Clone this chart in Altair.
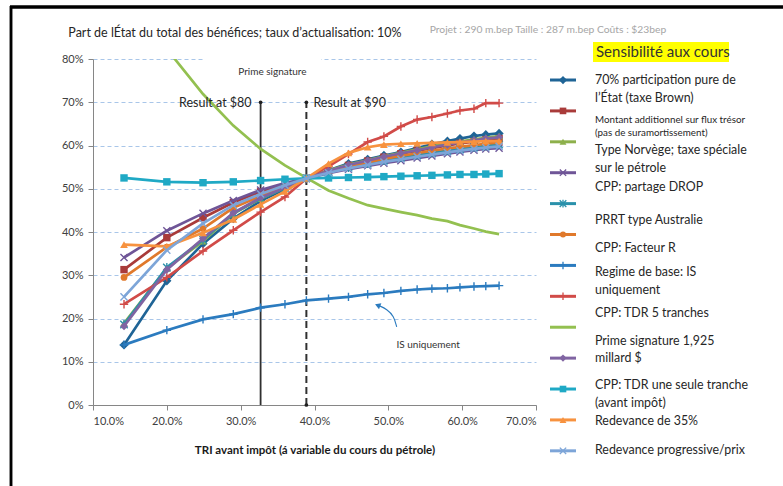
import altair as alt
import pandas as pd

FONT = "Lato"

# TRI avant impôt at each oil-price step ($60 -> $150, by $5)
tri = [0.142, 0.200, 0.249, 0.290, 0.327, 0.360, 0.389, 0.419, 0.446, 0.472,
       0.494, 0.517, 0.539, 0.559, 0.580, 0.597, 0.616, 0.632, 0.650]

# Part de l'État (%) for each fiscal regime
brown = [13.9, 28.7, 37.3, 43.1, 47.2, 49.9, 52.4, 54.3, 55.8, 56.8, 57.7, 58.5, 59.4, 60.3, 61.0, 61.6, 62.2, 62.5, 62.8]
flux_tresor = [31.3, 38.7, 43.3, 46.8, 49.3, 51.0, 52.4, 54.1, 55.4, 56.4, 57.3, 58.1, 58.8, 59.4, 60.0, 60.5, 60.9, 61.3, 61.6]
norvege = [18.9, 31.6, 37.9, 44.2, 47.7, 50.2, 52.4, 54.2, 55.6, 56.6, 57.5, 58.3, 59.1, 59.8, 60.4, 60.9, 61.4, 61.8, 62.2]
partage_drop = [34.1, 40.3, 44.3, 47.3, 49.7, 51.3, 52.4, 53.6, 54.5, 55.3, 55.9, 56.5, 57.1, 57.6, 58.1, 58.5, 58.9, 59.2, 59.4]
prrt = [18.6, 31.8, 38.2, 44.3, 47.8, 50.2, 52.4, 53.8, 54.9, 55.8, 56.5, 57.2, 57.8, 58.3, 58.8, 59.2, 59.6, 59.9, 60.2]
facteur_r = [29.5, 36.5, 40.8, 45.6, 48.3, 50.4, 52.4, 54.0, 55.2, 56.1, 56.9, 57.6, 58.2, 58.8, 59.3, 59.7, 60.1, 60.4, 60.7]
is_seul = [13.9, 17.3, 19.8, 21.0, 22.5, 23.3, 24.2, 24.6, 25.0, 25.6, 25.9, 26.4, 26.7, 26.9, 27.0, 27.2, 27.4, 27.5, 27.6]
tdr_5 = [23.3, 29.5, 35.6, 40.4, 44.6, 48.1, 52.4, 55.2, 58.0, 60.8, 62.1, 64.4, 66.0, 66.6, 67.4, 68.1, 68.5, 69.8, 69.8]
prime_sig = [None, 82.3, 71.9, 64.6, 59.2, 55.4, 52.5, 49.6, 47.8, 46.2, 45.4, 44.6, 43.9, 43.1, 42.5, 41.6, 40.8, 40.1, 39.5]
tdr_1_diamant = [18.2, 31.3, 38.5, 44.4, 47.9, 50.3, 52.4, 54.1, 55.5, 56.5, 57.4, 58.2, 58.9, 59.6, 60.2, 60.7, 61.2, 61.6, 61.9]
tdr_1_carre = [52.5, 51.6, 51.4, 51.6, 51.9, 52.2, 52.4, 52.5, 52.6, 52.7, 52.8, 52.9, 53.0, 53.1, 53.2, 53.3, 53.3, 53.4, 53.5]
redevance_35 = [37.1, 36.7, 39.8, 42.9, 46.4, 49.4, 52.4, 55.8, 58.3, 59.6, 60.2, 60.4, 60.5, 60.6, 60.7, 60.8, 60.9, 61.0, 61.0]
redevance_prog = [25.0, 35.8, 42.0, 46.2, 48.8, 50.8, 52.4, 53.7, 54.7, 55.5, 56.2, 56.8, 57.4, 57.9, 58.4, 58.8, 59.2, 59.5, 59.8]

series = [brown, flux_tresor, norvege, partage_drop, prrt, facteur_r, is_seul,
          tdr_5, prime_sig, tdr_1_diamant, tdr_1_carre, redevance_35, redevance_prog]

# Series styling (drawing order = list order)
X_PATH = "M-1,-1L1,1M-1,1L1,-1"
PLUS_PATH = "M-1,0L1,0M0,-1L0,1"
STAR_PATH = "M-1,-1L1,1M-1,1L1,-1M0,-1.2L0,1.2"
colors = ["#1f6496", "#a93b3a", "#8db04b", "#6f5597", "#2a91ab", "#e0792b", "#2b7bbf",
          "#d14b48", "#93c050", "#8064a2", "#1fa9c5", "#f7923f", "#7da5d8"]
shapes = ["diamond", "square", "triangle-up", X_PATH, STAR_PATH, "circle", PLUS_PATH,
          PLUS_PATH, "", "diamond", "square", "triangle-up", X_PATH]
filled = [True, True, True, False, False, True, False, False, False, True, True, True, False]
sizes = [85, 55, 60, 50, 55, 45, 70, 70, 0, 65, 55, 60, 50]

# Legend text lines and their vertical slot (in legend-row units)
legend_lines = ["70% participation pure de", "l’État (taxe Brown)",
                "Montant additionnel sur flux trésor", "(pas de suramortissement)",
                "Type Norvège; taxe spéciale", "sur le pétrole", "CPP: partage DROP",
                "PRRT type Australie", "CPP: Facteur R", "Regime de base: IS", "uniquement",
                "CPP: TDR 5 tranches", "Prime signature 1,925", "millard $",
                "CPP: TDR une seule tranche", "(avant impôt)", "Redevance de 35%",
                "Redevance progressive/prix"]
legend_line_rows = [0.0, 0.58, 1.29, 1.71, 2.27, 2.85, 3.46, 4.53, 5.44, 6.21, 6.80,
                    7.54, 8.45, 9.0, 9.87, 10.45, 11.03, 11.97]
legend_line_sizes = [12.4, 12.4, 9.8, 9.8, 12.4, 12.4, 12.4, 12.4, 12.4, 12.4, 12.4,
                     12.4, 12.4, 12.4, 12.4, 12.4, 12.4, 12.4]

x_axis = alt.Axis(values=[0.1, 0.2, 0.3, 0.4, 0.5, 0.6, 0.7], format=".1%", grid=False,
                  title="TRI avant impôt (á variable du cours du pétrole)")
y_axis = alt.Axis(values=[0, 0.1, 0.2, 0.3, 0.4, 0.5, 0.6, 0.7, 0.8], format=".0%",
                  grid=True, title=None)
X = alt.X("tri:Q", scale=alt.Scale(domain=[0.1, 0.7], nice=False, zero=False), axis=x_axis)
Y = alt.Y("part:Q", scale=alt.Scale(domain=[0, 0.8], nice=False), axis=y_axis)

main_layers = []

# white box under the "Prime signature" note
box = pd.DataFrame({"x0": [0.250], "x1": [0.409], "y0": [0.74], "y1": [0.81]})
main_layers.append(
    alt.Chart(box).mark_rect(color="white").encode(
        x=alt.X("x0:Q", scale=alt.Scale(domain=[0.1, 0.7], nice=False, zero=False), axis=x_axis),
        x2="x1:Q",
        y=alt.Y("y0:Q", scale=alt.Scale(domain=[0, 0.8], nice=False), axis=y_axis),
        y2="y1:Q"))

# price reference lines at $80 and $90
ref = pd.DataFrame({"tri": [tri[4], tri[6]], "bas": [0.0, 0.0], "haut": [0.70, 0.70]})
main_layers.append(alt.Chart(ref.iloc[[0]]).mark_rule(color="#303030", strokeWidth=1.8).encode(
    x=X, y=alt.Y("bas:Q", scale=alt.Scale(domain=[0, 0.8], nice=False), axis=y_axis), y2="haut:Q"))
main_layers.append(alt.Chart(ref.iloc[[1]]).mark_rule(color="#303030", strokeWidth=2,
                                                       strokeDash=[7, 4]).encode(
    x=X, y=alt.Y("bas:Q", scale=alt.Scale(domain=[0, 0.8], nice=False), axis=y_axis), y2="haut:Q"))
dots = pd.DataFrame({"tri": [tri[4], tri[6], tri[6]], "part": [0.70, 0.70, 0.0]})
main_layers.append(alt.Chart(dots).mark_point(filled=True, color="#202020", size=14, opacity=1).encode(x=X, y=Y))

for vals, c, sh, f, sz in zip(series, colors, shapes, filled, sizes):
    df = pd.DataFrame({"tri": tri, "part": [v / 100 if v is not None else None for v in vals]}).dropna()
    kw = dict(color=c, strokeWidth=2.7, clip=True)
    if sh:
        kw["point"] = alt.OverlayMarkDef(shape=sh, size=sz, filled=f, color=c,
                                         strokeWidth=1.4, opacity=1, clip=True)
    main_layers.append(alt.Chart(df).mark_line(**kw).encode(x=X, y=Y))

lab80 = pd.DataFrame({"tri": [tri[4]], "part": [0.70], "t": ["Result at $80"]})
lab90 = pd.DataFrame({"tri": [tri[6]], "part": [0.70], "t": ["Result at $90"]})
main_layers.append(alt.Chart(lab80).mark_text(align="right", baseline="middle", dx=-9, dy=1,
                                               font=FONT, fontSize=12.5, color="#262626").encode(x=X, y=Y, text="t:N"))
main_layers.append(alt.Chart(lab90).mark_text(align="left", baseline="middle", dx=7, dy=1,
                                               font=FONT, fontSize=12.5, color="#262626").encode(x=X, y=Y, text="t:N"))

notes = pd.DataFrame({"tri": [0.343, 0.554], "part": [0.770, 0.139],
                      "t": ["Prime signature", "IS uniquement"]})
main_layers.append(alt.Chart(notes).mark_text(align="center", baseline="middle", font=FONT,
                                              fontSize=10, color="#333333").encode(x=X, y=Y, text="t:N"))

# curved arrow pointing at the IS line
arrow = pd.DataFrame({"tri": [0.5113, 0.5076, 0.4981, 0.4870],
                      "part": [0.1808, 0.2055, 0.2217, 0.2300], "o": [0, 1, 2, 3]})
main_layers.append(alt.Chart(arrow).mark_line(color="#2b7bbf", strokeWidth=1.1,
                                              interpolate="basis").encode(x=X, y=Y, order="o:Q"))
head = pd.DataFrame({"tri": [0.4855], "part": [0.2307]})
main_layers.append(alt.Chart(head).mark_point(shape="triangle-up", angle=292, filled=True,
                                              color="#2b7bbf", size=40, opacity=1).encode(x=X, y=Y))

# chart heading and project summary above the plot
heads = pd.DataFrame({
    "tri": [0.0666, 0.556], "part": [0.859, 0.868],
    "t": ["Part de lÉtat du total des bénéfices; taux d’actualisation: 10%",
          "Projet : 290 m.bep  Taille : 287 m.bep  Coûts : $23bep"],
})
main_layers.append(alt.Chart(heads.iloc[[0]]).mark_text(align="left", baseline="middle", font=FONT,
                                                        fontSize=12.5, color="#262626").encode(x=X, y=Y, text="t:N"))
main_layers.append(alt.Chart(heads.iloc[[1]]).mark_text(align="left", baseline="middle", font=FONT,
                                                        fontSize=10.3, color="#a6a6a6").encode(x=X, y=Y, text="t:N"))

# outer frame
main_layers.append(alt.Chart(heads).mark_rule(color="black", strokeWidth=3).encode(
    x=alt.value(-83), x2=alt.value(700), y=alt.value(-52)))
main_layers.append(alt.Chart(heads).mark_rule(color="black", strokeWidth=2.5).encode(
    x=alt.value(-82), y=alt.value(-53), y2=alt.value(440)))

main = alt.layer(*main_layers)

# legend: one row per series, drawn with its own vertical scale
leg_scale = alt.Scale(domain=[-0.68, 10.517], reverse=True, nice=False, zero=False)
legend_layers = []
title_box = pd.DataFrame({"a": [-1.23], "b": [-0.58], "t": ["Sensibilité aux cours"], "m": [-0.90]})
legend_layers.append(alt.Chart(title_box).mark_rect(color="#ffff00").encode(
    x=alt.value(500), x2=alt.value(636), y=alt.Y("a:Q", scale=leg_scale, axis=None), y2="b:Q"))
legend_layers.append(alt.Chart(title_box).mark_text(align="left", baseline="middle", font=FONT,
                                                    fontSize=15, color="#333333").encode(
    x=alt.value(503), y=alt.Y("m:Q", scale=leg_scale, axis=None), text="t:N"))

for i, (c, sh, f, sz) in enumerate(zip(colors, shapes, filled, sizes)):
    row = pd.DataFrame({"row": [i]})
    legend_layers.append(alt.Chart(row).mark_rule(color=c, strokeWidth=3).encode(
        x=alt.value(457), x2=alt.value(483), y=alt.Y("row:Q", scale=leg_scale, axis=None)))
    if sh:
        legend_layers.append(alt.Chart(row).mark_point(shape=sh, filled=f, color=c, size=sz * 0.8,
                                                       strokeWidth=1.3, opacity=1).encode(
            x=alt.value(470), y=alt.Y("row:Q", scale=leg_scale, axis=None)))

for txt, r, fs in zip(legend_lines, legend_line_rows, legend_line_sizes):
    d = pd.DataFrame({"row": [r], "t": [txt]})
    legend_layers.append(alt.Chart(d).mark_text(align="left", baseline="middle", font=FONT,
                                                fontSize=fs, color="#262626").encode(
        x=alt.value(502), y=alt.Y("row:Q", scale=leg_scale, axis=None), text="t:N"))

legend = alt.layer(*legend_layers)

chart = (
    alt.layer(main, legend)
    .resolve_scale(y="independent")
    .properties(
        width=443, height=346,
        padding={"left": 93, "top": 59, "right": 247, "bottom": 81},
        autosize=alt.AutoSizeParams(type="none"),
    )
    .configure_view(stroke=None)
    .configure_axis(
        labelFont=FONT, labelFontSize=11, labelColor="#404040",
        domainColor="#868686", tickColor="#868686", tickSize=5,
        gridColor="#a9c6e9", gridDash=[4, 3], gridWidth=1,
        titleFont=FONT, titleFontSize=11.5, titleFontWeight="bold", titleColor="#1a1a1a",
    )
    .configure_axisX(labelPadding=5, titlePadding=18)
    .configure_axisY(labelPadding=5)
)

chart.save("out.html", embed_options={"renderer": "svg", "actions": False})
